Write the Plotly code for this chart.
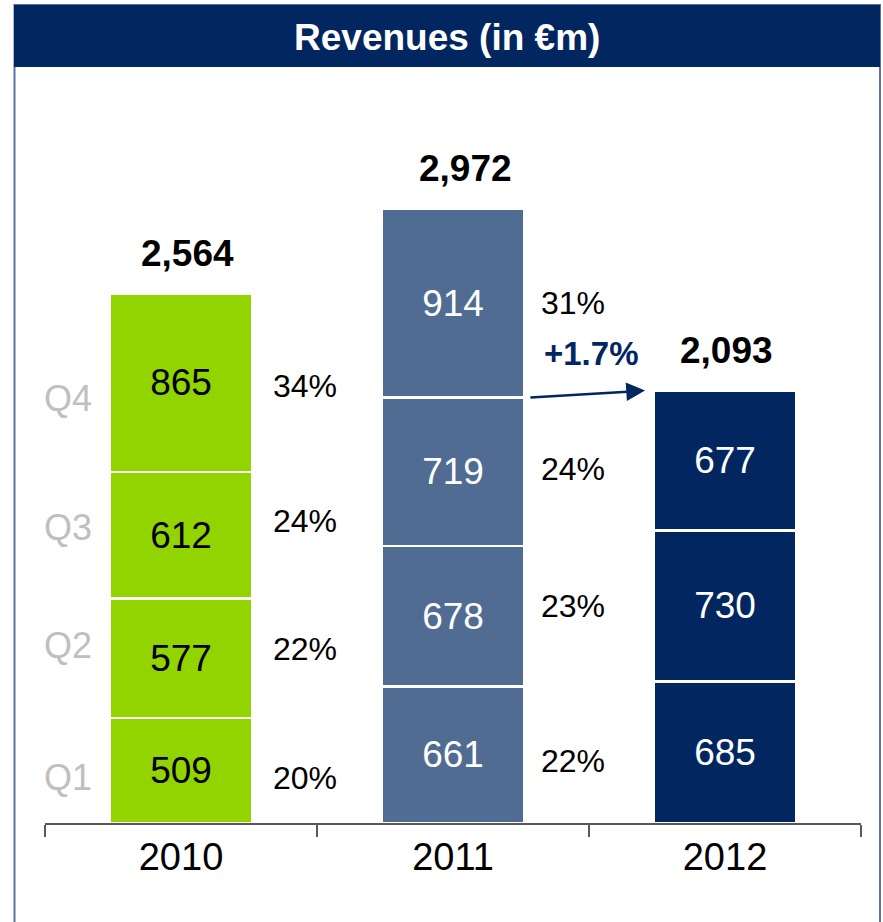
import plotly.graph_objects as go

# ---- data ----
years = ["2010", "2011", "2012"]
q1 = [509, 661, 685]
q2 = [577, 678, 730]
q3 = [612, 719, 677]
q4 = [865, 914, None]
totals = ["2,564", "2,972", "2,093"]
shares_2010 = ["20%", "22%", "24%", "34%"]
shares_2011 = ["22%", "23%", "24%", "31%"]
quarters = ["Q1", "Q2", "Q3", "Q4"]
growth_label = "+1.7%"
title = "Revenues (in €m)"

# ---- style ----
FONT = "Liberation Sans, Arial, sans-serif"
GREEN = "#92D400"
STEEL = "#506C93"
NAVY = "#022660"
bar_colors = [GREEN, STEEL, NAVY]
text_colors = ["black", "white", "white"]

W, H = 883, 922
L, R, T, B = 45, 22, 100, 99
PW, PH = W - L - R, H - T - B


def px(x):
    return (x - L) / PW


def py(y):
    return (H - B - y) / PH


fig = go.Figure()
for vals in [q1, q2, q3, q4]:
    fig.add_trace(go.Bar(
        x=years, y=vals,
        marker=dict(color=bar_colors, line=dict(color="white", width=2.5)),
        text=[("" if v is None else str(v)) for v in vals],
        textposition="inside", insidetextanchor="middle", textangle=0,
        textfont=dict(family=FONT, size=37, color=text_colors),
        constraintext="none",
        width=0.525, hoverinfo="skip", showlegend=False,
    ))

annotations = []
series = [q1, q2, q3, q4]
stack_tops = []
for i in range(3):
    vals = [s[i] for s in series if s[i] is not None]
    stack_tops.append(sum(vals))

# totals above bars
for i, t in enumerate(totals):
    annotations.append(dict(x=i, y=stack_tops[i], text=f"<b>{t}</b>", showarrow=False,
                            xanchor="center", yanchor="middle", yshift=40,
                            xshift=[6, 12, 1][i],
                            font=dict(family=FONT, size=37, color="black")))

# shares
share_offsets = {0: [-8, 9, 14, -3], 1: [-6, 10, 3, 0]}
for i, shares in [(0, shares_2010), (1, shares_2011)]:
    cum = 0
    for k, s in enumerate(shares):
        v = series[k][i]
        mid = cum + v / 2
        cum += v
        annotations.append(dict(x=i, y=mid, text=s, showarrow=False,
                                xanchor="center", yanchor="middle",
                                xshift=[124, 120][i], yshift=share_offsets[i][k],
                                font=dict(family=FONT, size=32, color="black")))

# quarter labels on the left
for q, ypix in zip(quarters, [777, 645, 527, 398]):
    annotations.append(dict(x=px(68), y=py(ypix), xref="paper", yref="paper",
                            xanchor="center", yanchor="middle",
                            text=q, showarrow=False,
                            font=dict(family=FONT, size=36, color="#BFBFBF")))

# growth arrow: from 2011 9M cumulative to 2012 total
nine_m_2011 = q1[1] + q2[1] + q3[1]
annotations.append(dict(x=1.706, y=stack_tops[2], xref="x", yref="y",
                        ax=1.279, ay=nine_m_2011, axref="x", ayref="y",
                        showarrow=True, arrowhead=2, arrowsize=1.5, arrowwidth=2.5,
                        arrowcolor=NAVY, text=""))
annotations.append(dict(x=px(591), y=py(353), xref="paper", yref="paper",
                        xanchor="center", yanchor="middle",
                        text=f"<b>{growth_label}</b>", showarrow=False,
                        font=dict(family=FONT, size=33, color=NAVY)))

# title
annotations.append(dict(x=px(447), y=py(37), xref="paper", yref="paper",
                        xanchor="center", yanchor="middle",
                        text=f"<b>{title}</b>", showarrow=False,
                        font=dict(family=FONT, size=37, color="white")))

shapes = [
    dict(type="rect", xref="paper", yref="paper",
         x0=px(14.5), x1=px(880), y0=py(940), y1=py(5),
         line=dict(color="#5A73A0", width=2), fillcolor="rgba(0,0,0,0)", layer="below"),
    dict(type="rect", xref="paper", yref="paper",
         x0=px(14), x1=px(880), y0=py(67), y1=py(5),
         line=dict(width=0), fillcolor=NAVY, layer="below"),
]

fig.update_layout(
    width=W, height=H,
    margin=dict(l=L, r=R, t=T, b=B),
    paper_bgcolor="white", plot_bgcolor="white",
    barmode="stack",
    annotations=annotations, shapes=shapes,
    xaxis=dict(type="category", range=[-0.5, 2.5], tickson="boundaries",
               ticks="outside", ticklen=12, tickwidth=1.5, tickcolor="#595959",
               showline=True, linecolor="#595959", linewidth=1.5, showgrid=False,
               tickfont=dict(family=FONT, size=38, color="black"), fixedrange=True),
    yaxis=dict(visible=False, range=[0, 3498], fixedrange=True),
)

fig.write_html(
    "out.html",
    config={"displayModeBar": False},
    post_script="document.body.style.margin='0px';document.body.style.overflow='hidden';",
)
